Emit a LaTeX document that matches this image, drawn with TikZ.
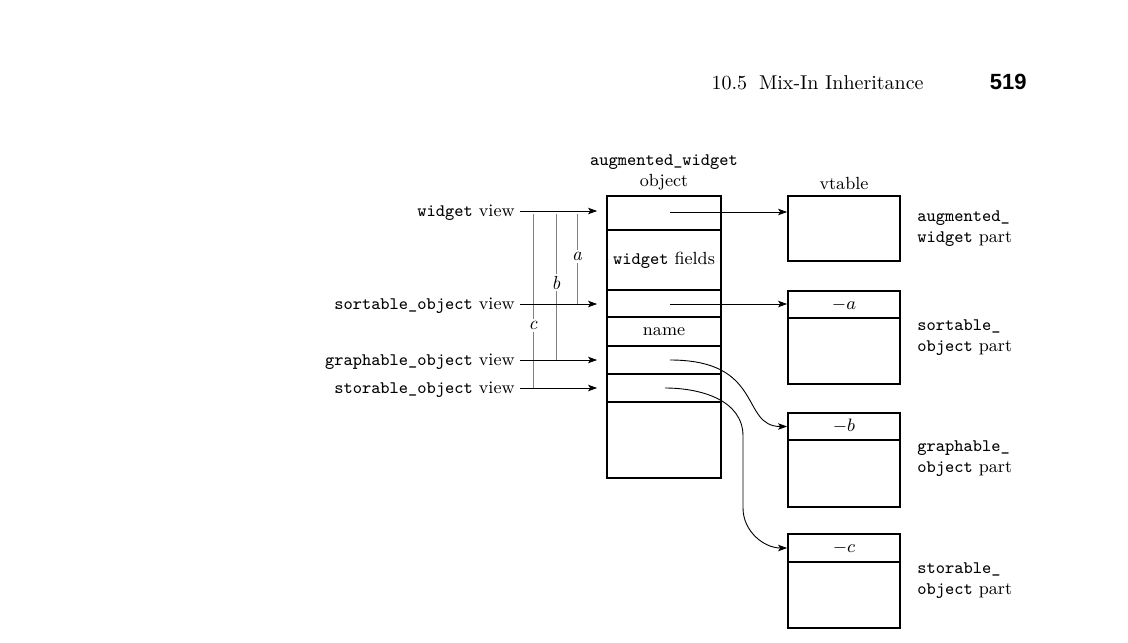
\documentclass[tikz,border=0pt]{standalone}
\usepackage{fontspec}
\newfontfamily\hdsans{Liberation Sans}
\usetikzlibrary{arrows.meta}
\begin{document}
\begin{tikzpicture}[x=0.5pt,y=-0.5pt,
  every node/.style={font=\fontsize{8.8}{10.5}\selectfont},
  cell/.style={draw,line width=0.85pt,inner sep=0pt,minimum width=57pt},
  vcell/.style={draw,line width=0.85pt,inner sep=0pt,minimum width=56pt},
  arr/.style={line width=0.45pt,-{Stealth[length=4.5pt,width=3.2pt,inset=1pt]}},
  dist/.style={line width=0.5pt,draw=gray},
  dlab/.style={fill=white,inner sep=1pt,font=\fontsize{9.5}{10.5}\selectfont\itshape},
  vlab/.style={anchor=east,inner sep=0pt},
  plab/.style={anchor=west,align=left,inner sep=0pt}]
\useasboundingbox (0,0) rectangle (1128,642);
% running head
\node[anchor=base east,inner sep=0pt,font=\fontsize{10}{12}\selectfont] (head) at (924,90) {10.5\hspace{0.6em}Mix-In Inheritance};
\node[anchor=base east,inner sep=0pt,font=\fontsize{11}{12}\hdsans\bfseries] (page) at (1027,90) {519};
% object column
\node[cell,minimum height=17pt] (r1) at (664,213) {};
\node[cell,minimum height=30pt] (r2) at (664,260) {\texttt{widget} fields};
\node[cell,minimum height=13.5pt] (r3) at (664,303.5) {};
\node[cell,minimum height=14.5pt] (r4) at (664,331.5) {name};
\node[cell,minimum height=14pt] (r5) at (664,360) {};
\node[cell,minimum height=14pt] (r6) at (664,388) {};
\node[cell,minimum height=38pt] (r7) at (664,440) {};
\node[align=center,inner sep=0pt] (objt) at (664,172) {\texttt{augmented\_widget}\\object};
% vtable parts
\node[vcell,minimum height=32.5pt] (vt) at (844,228.5) {};
\node[inner sep=0pt] (vtt) at (844,183) {vtable};
\node[vcell,minimum height=13.5pt] (sa) at (844,304.5) {$-a$};
\node[vcell,minimum height=33pt] (sb) at (844,351) {};
\node[vcell,minimum height=13.5pt] (ga) at (844,426.5) {$-b$};
\node[vcell,minimum height=33.5pt] (gb) at (844,473.5) {};
\node[vcell,minimum height=14pt] (ta) at (844,548) {$-c$};
\node[vcell,minimum height=33pt] (tb) at (844,595) {};
% part labels
\node[plab] (l1) at (917,228.5) {\texttt{augmented\_}\\\texttt{widget} part};
\node[plab] (l2) at (917,338) {\texttt{sortable\_}\\\texttt{object} part};
\node[plab] (l3) at (917,458.5) {\texttt{graphable\_}\\\texttt{object} part};
\node[plab] (l4) at (917,580.5) {\texttt{storable\_}\\\texttt{object} part};
% view labels
\node[vlab] (v1) at (515,213) {\texttt{widget} view};
\node[vlab] (v2) at (515,306) {\texttt{sortable\_object} view};
\node[vlab] (v3) at (515,362) {\texttt{graphable\_object} view};
\node[vlab] (v4) at (515,390) {\texttt{storable\_object} view};
% offset lines
\coordinate (at) at (577,214); \coordinate (ab) at (577,304);
\coordinate (bt) at (556,214); \coordinate (bb) at (556,360);
\coordinate (ct) at (533,214); \coordinate (cb) at (533,388);
\draw[dist] (at) -- node[dlab,pos=0.47] {a} (ab);
\draw[dist] (bt) -- node[dlab,pos=0.47] {b} (bb);
\draw[dist] (ct) -- node[dlab,pos=0.64] {c} (cb);
% view arrows
\coordinate (w1) at (520,211); \coordinate (w2) at (520,304);
\coordinate (w3) at (520,360); \coordinate (w4) at (520,388);
\draw[arr] (w1) -- ([xshift=-4.5pt]w1 -| r1.west);
\draw[arr] (w2) -- ([xshift=-4.5pt]w2 -| r3.west);
\draw[arr] (w3) -- ([xshift=-4.5pt]w3 -| r5.west);
\draw[arr] (w4) -- ([xshift=-4.5pt]w4 -| r6.west);
% pointer arrows
\coordinate (p1) at (670,212);
\coordinate (p2) at (670,304);
\coordinate (p3) at (670,360);
\coordinate (p4) at (665,388);
\coordinate (q4a) at (743,436);
\coordinate (q4b) at (743,508);
\draw[arr] (p1) -- (p1 -| vt.west);
\draw[arr] (p2) -- (p2 -| sa.west);
\draw[arr] (p3) .. controls (765,360) and (740,426.5) .. (ga.west);
\draw[arr] (p4) to[out=0,in=90] (q4a) -- (q4b) to[out=-90,in=180] (ta.west);
\end{tikzpicture}
\end{document}
